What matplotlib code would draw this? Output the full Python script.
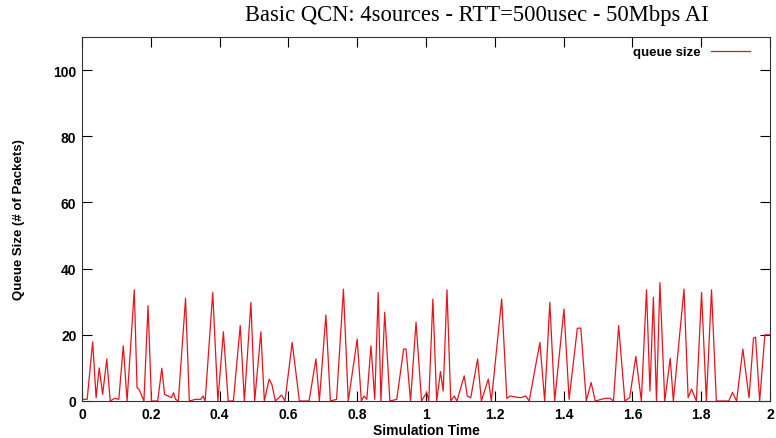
import matplotlib
matplotlib.use("Agg")
import matplotlib.pyplot as plt
from matplotlib.ticker import MultipleLocator, FuncFormatter

title = "Basic QCN: 4sources - RTT=500usec - 50Mbps AI"
xlabel = "Simulation Time"
ylabel = "Queue Size (# of Packets)"
series_label = "queue size"

time = [0.000, 0.015, 0.031, 0.041, 0.050, 0.060, 0.072, 0.082, 0.095, 0.107,
        0.120, 0.131, 0.152, 0.160, 0.166, 0.172, 0.180, 0.192, 0.202, 0.220,
        0.232, 0.240, 0.250, 0.260, 0.266, 0.272, 0.280, 0.301, 0.312, 0.330,
        0.345, 0.352, 0.358, 0.380, 0.395, 0.411, 0.425, 0.440, 0.460, 0.472,
        0.491, 0.502, 0.520, 0.530, 0.544, 0.552, 0.562, 0.580, 0.590, 0.611,
        0.632, 0.660, 0.680, 0.690, 0.709, 0.722, 0.740, 0.760, 0.774, 0.800,
        0.812, 0.820, 0.828, 0.840, 0.851, 0.861, 0.869, 0.880, 0.895, 0.915,
        0.935, 0.942, 0.955, 0.971, 0.987, 1.002, 1.008, 1.020, 1.031, 1.042,
        1.050, 1.061, 1.072, 1.082, 1.090, 1.111, 1.120, 1.130, 1.150, 1.161,
        1.181, 1.190, 1.220, 1.235, 1.245, 1.260, 1.275, 1.290, 1.300, 1.331,
        1.345, 1.360, 1.374, 1.401, 1.416, 1.440, 1.450, 1.466, 1.480, 1.492,
        1.520, 1.535, 1.545, 1.560, 1.578, 1.592, 1.610, 1.626, 1.641, 1.651,
        1.661, 1.670, 1.680, 1.694, 1.710, 1.719, 1.750, 1.762, 1.772, 1.786,
        1.801, 1.815, 1.830, 1.844, 1.880, 1.891, 1.903, 1.921, 1.939, 1.952,
        1.958, 1.970, 1.985, 2.000]

queue = [0.5, 0.5, 17.9, 1.0, 10.0, 2.0, 12.7, 0.0, 0.8, 0.5,
         16.7, 0.0, 33.6, 4.0, 3.5, 2.0, 0.0, 28.8, 0.0, 0.0,
         9.9, 2.0, 1.5, 1.0, 2.5, 0.5, 0.0, 31.0, 0.0, 0.5,
         0.5, 1.5, 0.0, 32.8, 0.0, 20.9, 0.0, 0.0, 22.8, 0.0,
         29.8, 0.0, 20.9, 0.0, 6.6, 5.0, 0.0, 1.8, 0.0, 17.7,
         0.0, 0.0, 12.7, 0.0, 26.0, 0.0, 0.5, 33.8, 0.0, 18.7,
         0.0, 1.5, 0.5, 16.7, 0.5, 32.8, 0.0, 26.8, 0.0, 0.5,
         15.7, 15.7, 0.0, 23.8, 0.0, 2.6, 0.0, 30.8, 0.0, 8.9,
         3.0, 33.6, 0.0, 1.5, 0.0, 7.6, 1.5, 1.0, 12.7, 0.0,
         6.6, 0.0, 30.8, 0.8, 1.5, 1.2, 1.0, 1.5, 0.0, 17.7,
         0.0, 29.8, 0.0, 27.8, 0.5, 22.0, 22.0, 0.0, 5.6, 0.0,
         0.8, 0.8, 0.0, 22.8, 0.0, 1.0, 13.5, 0.0, 33.6, 3.0,
         31.3, 0.0, 35.8, 0.0, 12.9, 0.0, 33.8, 1.0, 3.6, 0.0,
         32.8, 0.0, 33.6, 0.0, 0.0, 2.6, 0.0, 15.7, 1.0, 19.0,
         19.3, 0.0, 20.0, 20.0]

fig = plt.figure(figsize=(7.76, 4.39), dpi=100)
ax = fig.add_axes([82/776, 1 - 402/439, (770-82)/776, (402-38)/439])

ax.plot(time, queue, color="#e8141c", lw=0.9, label=series_label)

ax.set_xlim(0, 2)
ax.set_ylim(0, 110)
ax.xaxis.set_major_locator(MultipleLocator(0.2))
ax.yaxis.set_major_locator(MultipleLocator(20))
ax.tick_params(direction="in", length=7, width=0.8, top=True, right=True,
               labelsize=10, pad=4)
ax.xaxis.set_major_formatter(FuncFormatter(lambda v, p: f"{v:g}"))
for lbl in ax.get_xticklabels() + ax.get_yticklabels():
    lbl.set_family("Liberation Sans")
    lbl.set_fontweight("bold")
for s in ax.spines.values():
    s.set_linewidth(0.8)
    s.set_color("#333333")

ax.set_xlabel(xlabel, family="Liberation Sans", fontsize=10, fontweight="bold", labelpad=2)
ax.set_ylabel(ylabel, family="Liberation Sans", fontsize=9.5, fontweight="bold", labelpad=20)
fig.text(477/776, 1 - 15/439, title, family="Liberation Serif", fontsize=16.3,
         ha="center", va="center")

leg = ax.legend(loc="upper right", frameon=False,
                prop={"family": "Liberation Sans", "size": 9.5, "weight": "bold"},
                handlelength=3.0, markerfirst=False, borderaxespad=0.3,
                handletextpad=0.8, bbox_to_anchor=(0.985, 1.0))

fig.savefig("out.png", dpi=100)
